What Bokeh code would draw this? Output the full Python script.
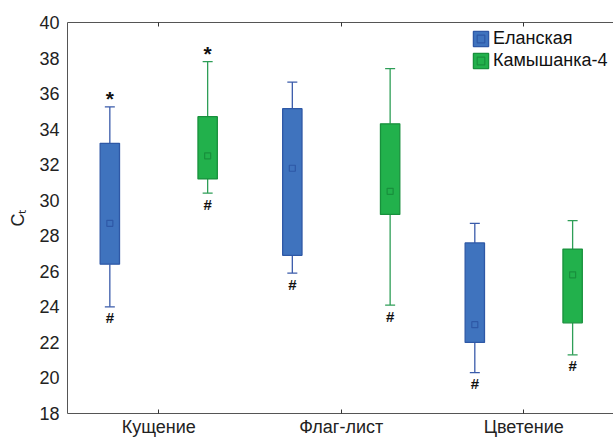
from bokeh.plotting import figure
from bokeh.models import ColumnDataSource, FixedTicker, Legend, LegendItem, LinearAxis, Range1d
from bokeh.embed import file_html
from bokeh.resources import INLINE
from bokeh.core.properties import value

stages = ["Кущение", "Флаг-лист", "Цветение"]
varieties = ["Еланская", "Камышанка-4"]

el_min = [24.0, 25.9, 20.3]
el_q1 = [26.4, 26.9, 22.0]
el_mean = [28.7, 31.8, 23.0]
el_q3 = [33.2, 35.15, 27.6]
el_max = [35.25, 36.65, 28.7]
el_top_marks = ["*", "", ""]
el_bottom_marks = ["#", "#", "#"]

km_min = [30.4, 24.1, 21.3]
km_q1 = [31.2, 29.2, 23.1]
km_mean = [32.5, 30.5, 25.8]
km_q3 = [34.7, 34.3, 27.25]
km_max = [37.8, 37.4, 28.85]
km_top_marks = ["*", "", ""]
km_bottom_marks = ["#", "#", "#"]

y_ticks = [18, 20, 22, 24, 26, 28, 30, 32, 34, 36, 38, 40]

FONT = "Liberation Sans"
DODGE = 0.268
BOX_W = 0.106

p = figure(width=613, height=439, x_range=Range1d(0, 2.992), y_range=Range1d(18, 40),
           output_backend="svg", toolbar_location=None,
           min_border_left=67, min_border_top=22, min_border_right=0, min_border_bottom=26)
p.outline_line_color = None
p.xgrid.visible = False
p.ygrid.visible = False
p.background_fill_color = "white"

cat_pos = [i + 0.5 for i in range(len(stages))]

series = [
    (varieties[0], -DODGE, el_min, el_q1, el_mean, el_q3, el_max, el_top_marks, el_bottom_marks,
     "#3F73BE", "#2E58A6", "#3A5BAA"),
    (varieties[1], DODGE, km_min, km_q1, km_mean, km_q3, km_max, km_top_marks, km_bottom_marks,
     "#22B14C", "#18903C", "#2E9E57"),
]

legend_items = []
for name, off, mn, q1, mean, q3, mx, tmarks, bmarks, fill, edge, wcol in series:
    xs = [c + off for c in cat_pos]
    src = ColumnDataSource(dict(x=xs, mn=mn, q1=q1, mean=mean, q3=q3, mx=mx))
    p.segment(x0="x", y0="q3", x1="x", y1="mx", source=src, line_color=wcol, line_width=1.3)
    p.segment(x0="x", y0="q1", x1="x", y1="mn", source=src, line_color=wcol, line_width=1.3)
    p.scatter(x="x", y="mx", source=src, marker="dash", size=10, line_color=wcol, line_width=1.3)
    p.scatter(x="x", y="mn", source=src, marker="dash", size=10, line_color=wcol, line_width=1.3)
    box = p.vbar(x="x", width=BOX_W, bottom="q1", top="q3", source=src,
                 fill_color=fill, line_color=edge, line_width=1.3)
    mean_r = p.scatter(x="x", y="mean", source=src, marker="square", size=6,
                       fill_color=None, line_color=edge, line_width=1.2)
    tsrc = ColumnDataSource(dict(x=[x for x, t in zip(xs, tmarks) if t],
                                 y=[v for v, t in zip(mx, tmarks) if t],
                                 t=[t for t in tmarks if t]))
    bsrc = ColumnDataSource(dict(x=[x for x, t in zip(xs, bmarks) if t],
                                 y=[v for v, t in zip(mn, bmarks) if t],
                                 t=[t for t in bmarks if t]))
    p.text(x="x", y="y", text="t", source=tsrc, text_align="center", text_baseline="alphabetic",
           y_offset=-8, text_font=value(FONT), text_font_style="bold", text_font_size="21px",
           text_color="#111111")
    p.text(x="x", y="y", text="t", source=bsrc, text_align="center", text_baseline="alphabetic",
           y_offset=11, text_font=value(FONT), text_font_style="bold", text_font_size="15px",
           text_color="#111111")
    legend_items.append(LegendItem(label=name, renderers=[box, mean_r]))

legend = Legend(items=legend_items, location=(404, 342), padding=0, margin=0, spacing=1,
                glyph_width=19, glyph_height=19, label_height=19, label_standoff=3,
                label_text_font=FONT, label_text_font_size="18px", label_text_color="#111111",
                border_line_color=None, background_fill_alpha=0)
p.add_layout(legend)

# axes
p.yaxis.ticker = FixedTicker(ticks=y_ticks)
p.yaxis.major_tick_out = 0
p.yaxis.major_tick_in = 0
p.yaxis.minor_tick_out = 0
p.yaxis.minor_tick_in = 0
p.yaxis.axis_line_color = "#555555"
p.yaxis.major_label_text_font = FONT
p.yaxis.major_label_text_font_size = "18px"
p.yaxis.major_label_text_color = "#222222"
p.yaxis.major_label_standoff = 8
p.yaxis.axis_label = "Cₜ"
p.yaxis.axis_label_text_font = FONT
p.yaxis.axis_label_text_font_size = "18px"
p.yaxis.axis_label_text_font_style = "normal"
p.yaxis.axis_label_text_color = "#222222"
p.yaxis.axis_label_standoff = 8

p.xaxis.ticker = FixedTicker(ticks=cat_pos)
p.xaxis.major_label_overrides = {c: s for c, s in zip(cat_pos, stages)}
p.xaxis.major_tick_out = 0
p.xaxis.major_tick_in = 4
p.xaxis.minor_tick_out = 0
p.xaxis.minor_tick_in = 0
p.xaxis.axis_line_color = "#555555"
p.xaxis.major_tick_line_color = "#333333"
p.xaxis.major_label_text_font = FONT
p.xaxis.major_label_text_font_size = "18px"
p.xaxis.major_label_text_color = "#222222"
p.xaxis.major_label_standoff = 3

top = LinearAxis(ticker=FixedTicker(ticks=[], minor_ticks=cat_pos),
                 major_tick_out=0, major_tick_in=0, minor_tick_out=0, minor_tick_in=4,
                 axis_line_color="#555555", minor_tick_line_color="#333333",
                 major_label_standoff=0)
p.add_layout(top, "above")

open("out.html", "w").write(file_html(p, INLINE))
